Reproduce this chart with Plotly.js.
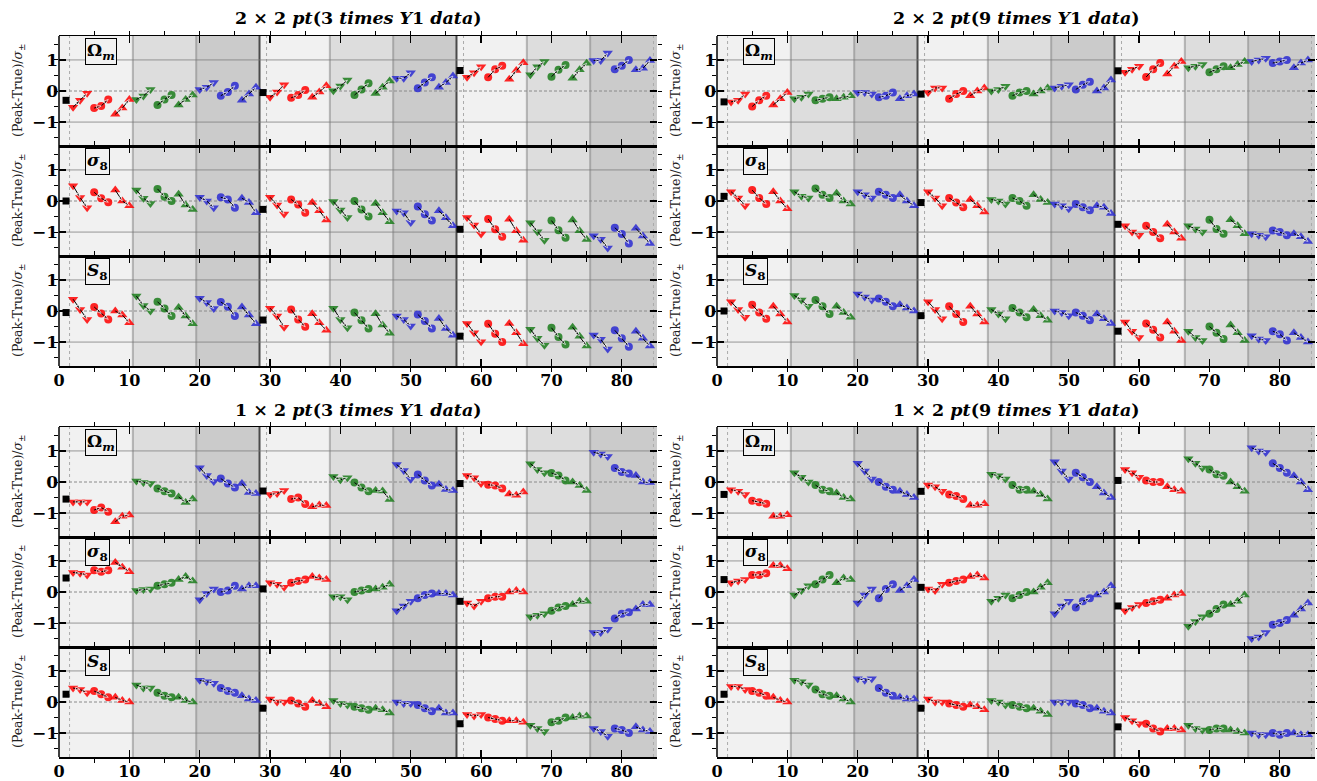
<!DOCTYPE html>
<html>
<head>
<meta charset="utf-8">
<script src="https://cdn.plot.ly/plotly-3.0.1.min.js"></script>
<style>
html,body{margin:0;padding:0;background:#fff;}
#chart{width:1317px;height:781px;}
</style>
</head>
<body>
<div id="chart"></div>
<script>
// Panel titles (scenario: partitioning and survey depth)
const panelTitles = [
  '<b>2 × 2 <i>pt</i>(3 <i>times Y</i>1 <i>data</i>)</b>',
  '<b>2 × 2 <i>pt</i>(9 <i>times Y</i>1 <i>data</i>)</b>',
  '<b>1 × 2 <i>pt</i>(3 <i>times Y</i>1 <i>data</i>)</b>',
  '<b>1 × 2 <i>pt</i>(9 <i>times Y</i>1 <i>data</i>)</b>'
];
const paramLabels = ['<b>Ω<sub><i>m</i></sub></b>', '<b><i>σ</i><sub>8</sub></b>', '<b><i>S</i><sub>8</sub></b>'];
const yTitle = '(Peak-True)/<i>σ</i><sub>±</sub>';
const tickLabelsX = [0, 10, 20, 30, 40, 50, 60, 70, 80];

// (Peak-True)/sigma for configurations 1..84 : 2x2pt, 3 x Y1
const om_2x2_3 = [-0.30, -0.52,-0.30,-0.07, -0.55,-0.48,-0.27, -0.75,-0.55,-0.27, -0.27,-0.16,0.05, -0.45,-0.27,-0.13, -0.45,-0.27,-0.13, 0.05,0.12,0.27, -0.15,-0.03,0.17, -0.30,-0.10,0.12,
  -0.05, -0.20,-0.03,0.20, -0.22,-0.13,0.03, -0.20,-0.03,0.17, 0.01,0.16,0.35, -0.13,0.05,0.25, -0.08,0.12,0.32, 0.41,0.41,0.59, 0.09,0.27,0.44, 0.12,0.27,0.48,
  0.66, 0.44,0.59,0.78, 0.44,0.70,0.81, 0.38,0.66,0.91, 0.52,0.78,0.95, 0.46,0.68,0.84, 0.41,0.68,0.89, 0.98,0.98,1.22, 0.70,0.81,1.00, 0.68,0.73,0.98];
const s8_2x2_3 = [0.00, 0.49,0.11,-0.22, 0.28,0.09,-0.04, 0.35,0.00,-0.15, 0.35,0.09,-0.08, 0.39,0.14,0.00, 0.22,-0.13,-0.27, 0.12,0.00,-0.22, 0.12,0.05,-0.22, 0.09,-0.05,-0.38,
  -0.27, 0.12,-0.13,-0.42, 0.05,-0.11,-0.38, -0.05,-0.31,-0.61, -0.02,-0.29,-0.53, 0.00,-0.27,-0.50, -0.08,-0.38,-0.67, -0.32,-0.38,-0.69, -0.18,-0.43,-0.63, -0.31,-0.54,-0.80,
  -0.91, -0.53,-0.77,-1.06, -0.58,-0.91,-1.15, -0.59,-0.96,-1.26, -0.70,-0.99,-1.26, -0.63,-0.94,-1.18, -0.61,-0.96,-1.24, -1.12,-1.23,-1.51, -0.86,-1.06,-1.37, -0.88,-1.13,-1.37];
const S8_2x2_3 = [-0.05, 0.38,0.05,-0.27, 0.13,-0.08,-0.27, 0.00,-0.13,-0.38, 0.48,0.18,0.00, 0.30,0.08,-0.16, 0.11,-0.16,-0.41, 0.41,0.27,0.08, 0.29,0.14,-0.16, 0.13,-0.13,-0.41,
  -0.29, 0.09,-0.16,-0.52, 0.05,-0.27,-0.51, -0.09,-0.38,-0.62, 0.09,-0.27,-0.54, -0.05,-0.30,-0.56, -0.09,-0.45,-0.72, -0.16,-0.27,-0.48, -0.11,-0.32,-0.56, -0.24,-0.56,-0.78,
  -0.81, -0.40,-0.70,-0.99, -0.41,-0.73,-1.00, -0.40,-0.70,-1.05, -0.59,-0.88,-1.10, -0.54,-0.84,-1.08, -0.52,-0.81,-1.13, -0.77,-0.91,-1.22, -0.62,-0.88,-1.15, -0.65,-0.88,-1.13];

// 2x2pt, 9 x Y1
const om_2x2_9 = [-0.35, -0.35,-0.30,-0.10, -0.50,-0.30,-0.15, -0.45,-0.25,-0.05, -0.25,-0.20,-0.10, -0.30,-0.25,-0.20, -0.25,-0.20,-0.15, -0.05,-0.05,-0.10, -0.20,-0.15,-0.05, -0.25,-0.15,-0.10,
  -0.10, -0.05,0.10,0.10, -0.25,-0.10,0.00, -0.15,0.00,0.10, 0.00,0.05,0.15, -0.15,-0.05,0.00, -0.10,0.00,0.10, 0.10,0.15,0.20, 0.05,0.20,0.30, 0.00,0.10,0.35,
  0.65, 0.60,0.70,0.80, 0.45,0.70,0.90, 0.55,0.80,0.95, 0.75,0.80,0.85, 0.60,0.70,0.80, 0.75,0.85,0.95, 0.95,1.00,1.05, 0.90,0.95,1.00, 0.75,0.90,1.00];
const s8_2x2_9 = [0.15, 0.30,0.10,-0.15, 0.35,0.10,-0.10, 0.30,0.00,-0.25, 0.30,0.15,0.10, 0.40,0.20,0.10, 0.25,0.00,-0.10, 0.30,0.20,0.10, 0.30,0.20,0.10, 0.20,0.00,-0.15,
  -0.05, 0.30,0.10,-0.15, 0.10,-0.05,-0.20, 0.05,-0.15,-0.35, 0.05,0.00,-0.10, 0.10,0.00,-0.15, 0.20,0.05,-0.05, -0.10,-0.15,-0.25, -0.10,-0.20,-0.30, -0.15,-0.20,-0.40,
  -0.75, -0.80,-1.00,-1.10, -0.80,-1.00,-1.20, -0.75,-1.00,-1.20, -0.80,-0.90,-1.00, -0.60,-0.90,-1.05, -0.60,-0.80,-1.05, -1.05,-1.10,-1.15, -0.95,-1.00,-1.10, -1.05,-1.15,-1.30];
const S8_2x2_9 = [0.00, 0.30,0.05,-0.20, 0.20,-0.05,-0.25, 0.15,-0.10,-0.35, 0.50,0.35,0.15, 0.35,0.15,-0.10, 0.15,-0.05,-0.20, 0.55,0.45,0.35, 0.40,0.30,0.15, 0.20,0.10,0.00,
  -0.15, 0.30,0.05,-0.25, 0.15,-0.10,-0.35, 0.15,-0.10,-0.35, 0.05,-0.10,-0.25, 0.10,-0.05,-0.20, 0.05,-0.15,-0.30, 0.00,-0.05,-0.15, -0.05,-0.15,-0.30, -0.10,-0.25,-0.40,
  -0.65, -0.35,-0.65,-0.85, -0.40,-0.60,-0.85, -0.35,-0.65,-0.95, -0.65,-0.85,-0.95, -0.50,-0.70,-0.90, -0.45,-0.70,-0.95, -0.80,-0.90,-0.95, -0.65,-0.75,-0.95, -0.70,-0.85,-1.00];

// 1x2pt, 3 x Y1
const om_1x2_3 = [-0.55, -0.64,-0.64,-0.64, -0.90,-0.82,-0.96, -1.28,-1.10,-1.06, 0.03,-0.02,-0.05, -0.21,-0.30,-0.37, -0.48,-0.66,-0.55, 0.46,0.21,0.02, 0.11,-0.05,-0.18, -0.05,-0.34,-0.37,
  -0.29, -0.40,-0.37,-0.27, -0.55,-0.50,-0.71, -0.80,-0.74,-0.76, 0.18,0.07,0.14, -0.02,-0.18,-0.30, -0.27,-0.29,-0.56, 0.56,0.37,0.09, 0.24,0.05,-0.11, -0.07,-0.24,-0.27,
  -0.05, 0.21,0.14,-0.05, -0.09,-0.11,-0.21, -0.39,-0.43,-0.32, 0.59,0.40,0.30, 0.29,0.21,0.05, 0.00,-0.11,-0.27, 0.96,0.90,0.82, 0.45,0.32,0.27, 0.21,0.00,-0.02];
const s8_1x2_3 = [0.45, 0.63,0.60,0.55, 0.70,0.65,0.70, 0.95,0.80,0.65, 0.05,0.08,0.10, 0.20,0.25,0.30, 0.40,0.50,0.35, -0.25,-0.05,0.10, 0.00,0.05,0.20, 0.10,0.20,0.20,
  0.10, 0.30,0.25,0.15, 0.30,0.35,0.40, 0.50,0.45,0.40, -0.15,-0.15,-0.25, 0.00,0.05,0.10, 0.10,0.15,0.25, -0.60,-0.45,-0.30, -0.20,-0.10,-0.05, -0.05,-0.05,-0.10,
  -0.30, -0.35,-0.45,-0.30, -0.20,-0.15,-0.15, 0.00,0.05,0.00, -0.80,-0.75,-0.70, -0.60,-0.50,-0.45, -0.40,-0.30,-0.30, -1.30,-1.30,-1.20, -0.85,-0.70,-0.65, -0.55,-0.40,-0.40];
const S8_1x2_3 = [0.25, 0.45,0.40,0.30, 0.35,0.25,0.15, 0.15,0.05,0.00, 0.55,0.45,0.45, 0.30,0.20,0.15, 0.15,0.05,0.00, 0.70,0.65,0.60, 0.45,0.35,0.30, 0.20,0.10,0.05,
  -0.20, 0.10,0.00,0.00, 0.05,-0.05,-0.15, 0.05,-0.05,-0.15, 0.05,-0.05,-0.10, -0.15,-0.20,-0.25, -0.20,-0.25,-0.35, 0.00,-0.05,-0.05, -0.10,-0.20,-0.30, -0.20,-0.35,-0.35,
  -0.70, -0.40,-0.45,-0.40, -0.50,-0.55,-0.60, -0.60,-0.60,-0.65, -0.75,-0.85,-0.95, -0.65,-0.60,-0.50, -0.50,-0.45,-0.45, -0.85,-0.95,-1.10, -0.85,-0.90,-1.00, -0.80,-0.90,-0.95];

// 1x2pt, 9 x Y1
const om_1x2_9 = [-0.40, -0.25,-0.30,-0.40, -0.60,-0.65,-0.70, -1.10,-1.10,-1.05, 0.30,0.15,0.00, -0.10,-0.25,-0.30, -0.35,-0.50,-0.55, 0.60,0.35,0.10, 0.00,-0.15,-0.25, -0.30,-0.40,-0.50,
  -0.30, -0.10,-0.15,-0.30, -0.40,-0.45,-0.55, -0.75,-0.75,-0.70, 0.25,0.20,0.10, -0.10,-0.25,-0.25, -0.30,-0.40,-0.55, 0.65,0.35,0.10, 0.30,0.15,0.00, -0.15,-0.35,-0.50,
  0.05, 0.40,0.30,0.15, 0.05,0.00,0.00, -0.15,-0.25,-0.30, 0.75,0.60,0.45, 0.40,0.25,0.20, 0.00,-0.15,-0.30, 1.10,1.00,0.95, 0.60,0.45,0.30, 0.20,0.00,-0.25];
const s8_1x2_9 = [0.40, 0.30,0.35,0.40, 0.55,0.55,0.60, 0.85,0.85,0.75, -0.10,0.05,0.20, 0.25,0.40,0.55, 0.30,0.45,0.40, -0.35,-0.10,0.10, -0.20,0.10,0.25, 0.05,0.20,0.40,
  0.15, 0.10,0.05,0.25, 0.30,0.35,0.40, 0.50,0.55,0.45, -0.30,-0.20,-0.10, -0.20,-0.10,0.00, 0.00,0.15,0.30, -0.70,-0.45,-0.30, -0.50,-0.30,-0.20, -0.10,0.00,0.20,
  -0.45, -0.60,-0.50,-0.40, -0.35,-0.30,-0.25, -0.20,-0.10,-0.05, -1.10,-0.95,-0.80, -0.70,-0.55,-0.40, -0.40,-0.30,-0.10, -1.50,-1.45,-1.30, -1.05,-1.00,-0.90, -0.75,-0.55,-0.35];
const S8_1x2_9 = [0.25, 0.50,0.50,0.40, 0.35,0.30,0.20, 0.15,0.05,0.00, 0.70,0.65,0.55, 0.40,0.25,0.20, 0.20,0.10,0.00, 0.75,0.70,0.75, 0.45,0.30,0.20, 0.15,0.10,0.10,
  -0.20, 0.10,0.00,0.00, -0.05,-0.10,-0.15, -0.10,-0.15,-0.25, 0.05,0.00,-0.10, -0.10,-0.15,-0.20, -0.20,-0.30,-0.40, 0.00,0.00,0.00, -0.05,-0.10,-0.20, -0.20,-0.30,-0.35,
  -0.80, -0.50,-0.60,-0.70, -0.70,-0.85,-0.95, -0.85,-0.85,-0.90, -0.75,-0.85,-0.90, -0.90,-0.85,-0.85, -0.90,-0.95,-1.00, -1.00,-1.05,-1.05, -1.00,-1.05,-1.00, -1.00,-1.05,-1.05];

const panelData = [
  [om_2x2_3, s8_2x2_3, S8_2x2_3],
  [om_2x2_9, s8_2x2_9, S8_2x2_9],
  [om_1x2_3, s8_1x2_3, S8_1x2_3],
  [om_1x2_9, s8_1x2_9, S8_1x2_9]
];

// ---- styling / geometry ----
const W = 1317, H = 781;
const FONT = '"DejaVu Serif", "Liberation Serif", serif';
const colors = ['#ff0000', '#1b7d1b', '#2b2bd2'];
const symbols = ['triangle-down', 'circle', 'triangle-up'];
const xDom = [[59 / W, 657 / W], [717 / W, 1315 / W]];
const rowPix = [[[36, 146], [146, 256], [256, 366]], [[427, 537], [537, 647], [647, 757]]];
const bandFill = ['#f1f1f1', '#dddddd', '#cbcbcb'];

const traces = [];
const shapes = [];
const annotations = [];
const layout = {
  width: W, height: H,
  margin: {l: 0, r: 0, t: 0, b: 0},
  paper_bgcolor: '#ffffff', plot_bgcolor: '#ffffff',
  showlegend: false,
  font: {family: FONT, color: '#000'}
};

for (let p = 0; p < 4; p++) {
  const col = p % 2, blk = Math.floor(p / 2);
  const xd = xDom[col];
  // panel title
  annotations.push({
    xref: 'paper', yref: 'paper',
    x: (xd[0] + xd[1]) / 2, y: (H - (blk === 0 ? 18 : 410)) / H,
    xanchor: 'center', yanchor: 'middle', showarrow: false,
    text: panelTitles[p], font: {family: FONT, size: 17.5, color: '#000'}
  });
  for (let r = 0; r < 3; r++) {
    const k = p * 3 + r + 1;
    const xa = 'x' + k, ya = 'y' + k;
    const rp = rowPix[blk][r];
    const yd = [(H - rp[1]) / H, (H - rp[0]) / H];
    const vals = panelData[p][r];

    layout['xaxis' + k] = {
      domain: xd, anchor: ya, range: [0, 85],
      ticks: 'inside', ticklen: 7, tickwidth: 1.3, tickcolor: '#000',
      minor: {dtick: 5, tick0: 0, ticklen: 4, tickwidth: 1, tickcolor: '#000', showgrid: false},
      showline: true, linecolor: '#000', linewidth: 1.5, mirror: 'ticks',
      showgrid: false, zeroline: false, showticklabels: r === 2,
      tickmode: 'array', tickvals: tickLabelsX, ticktext: tickLabelsX.map(String),
      ticklabelstandoff: -1,
      tickfont: {family: FONT, size: 16, weight: 'bold', color: '#000'}
    };
    layout['yaxis' + k] = {
      domain: yd, anchor: xa, range: [-1.77, 1.77],
      tick0: 0, dtick: 1, ticks: 'inside', ticklen: 7, tickwidth: 1.3, tickcolor: '#000',
      minor: {dtick: 0.5, tick0: 0, ticklen: 4, tickwidth: 1, tickcolor: '#000', showgrid: false},
      showline: false, mirror: 'ticks',
      showgrid: false, zeroline: false,
      tickfont: {family: FONT, size: 17, weight: 'bold', color: '#000'}
    };

    // shaded sections
    for (let s = 0; s < 3; s++) {
      const b = 28 * s;
      const edges = [s === 0 ? 0 : b + 0.5, b + 10.5, b + 19.5, s === 2 ? 85 : b + 28.5];
      for (let c = 0; c < 3; c++) {
        shapes.push({type: 'rect', xref: xa, yref: ya + ' domain', x0: edges[c], x1: edges[c + 1], y0: 0, y1: 1,
          fillcolor: bandFill[c], line: {width: 0}, layer: 'below'});
      }
      [b + 10.5, b + 19.5].forEach(xv => shapes.push({type: 'line', xref: xa, yref: ya + ' domain', x0: xv, x1: xv, y0: 0, y1: 1,
        line: {color: 'rgba(110,110,110,0.45)', width: 2}, layer: 'below'}));
      shapes.push({type: 'line', xref: xa, yref: ya + ' domain', x0: b + 1.5, x1: b + 1.5, y0: 0, y1: 1,
        line: {color: '#aaaaaa', width: 1, dash: 'dot'}, layer: 'below'});
      if (s > 0) shapes.push({type: 'line', xref: xa, yref: ya + ' domain', x0: b + 0.5, x1: b + 0.5, y0: 0, y1: 1,
        line: {color: '#4a4a4a', width: 2}, layer: 'below'});
    }
    shapes.push({type: 'line', xref: xa, yref: ya + ' domain', x0: 84.5, x1: 84.5, y0: 0, y1: 1,
      line: {color: '#aaaaaa', width: 1, dash: 'dot'}, layer: 'below'});
    // reference levels
    [-1, 1].forEach(yv => shapes.push({type: 'line', xref: xa + ' domain', yref: ya, x0: 0, x1: 1, y0: yv, y1: yv,
      line: {color: 'rgba(120,120,120,0.75)', width: 1}, layer: 'below'}));
    shapes.push({type: 'line', xref: xa + ' domain', yref: ya, x0: 0, x1: 1, y0: 0, y1: 0,
      line: {color: '#8a8a8a', width: 1, dash: '3px,2px'}, layer: 'below'});
    // left spine
    shapes.push({type: 'line', xref: xa + ' domain', yref: ya + ' domain', x0: 0, x1: 0, y0: 0, y1: 1,
      line: {color: '#000', width: 1.5}, layer: 'above'});

    // parameter label box
    annotations.push({
      xref: xa, yref: ya + ' domain', x: 3.7, y: 0.985, xanchor: 'left', yanchor: 'top',
      showarrow: false, text: paramLabels[r], bordercolor: '#000', borderwidth: 1, borderpad: 1,
      bgcolor: '#f1f1f1', font: {family: FONT, size: 17, color: '#000'}
    });
    // y title
    annotations.push({
      xref: 'paper', yref: ya + ' domain', x: (col === 0 ? 18 : 676) / W, y: 0.5,
      xanchor: 'center', yanchor: 'middle', textangle: -90, showarrow: false,
      text: yTitle, font: {family: FONT, size: 12.5, color: '#222'}
    });

    // coloured markers: colour = sub-group, symbol = triplet
    for (let c = 0; c < 3; c++) {
      for (let m = 0; m < 3; m++) {
        const xs = [], ys = [];
        for (let s = 0; s < 3; s++) {
          for (let j = 0; j < 3; j++) {
            const pos = 28 * s + 2 + c * 9 + m * 3 + j;
            xs.push(pos); ys.push(vals[pos - 1]);
          }
        }
        traces.push({type: 'scatter', mode: 'markers', xaxis: xa, yaxis: ya, x: xs, y: ys,
          marker: {symbol: symbols[m], size: m === 1 ? 8 : 9, color: colors[c], opacity: 0.85, line: {width: 0}},
          hoverinfo: 'x+y'});
      }
    }
    // black connecting lines with direction arrows
    const lx = [], ly = [], ls = [];
    for (let s = 0; s < 3; s++) {
      for (let t = 0; t < 9; t++) {
        for (let j = 0; j < 3; j++) {
          const pos = 28 * s + 2 + t * 3 + j;
          lx.push(pos); ly.push(vals[pos - 1]); ls.push(j === 0 ? 0 : 5);
        }
        lx.push(null); ly.push(null); ls.push(0);
      }
    }
    traces.push({type: 'scatter', mode: 'lines+markers', xaxis: xa, yaxis: ya, x: lx, y: ly,
      line: {color: '#000', width: 1}, connectgaps: false,
      marker: {symbol: 'arrow', size: ls, color: '#000', angleref: 'previous'}, hoverinfo: 'skip'});
    // reference points (black squares)
    const bx = [1, 29, 57];
    traces.push({type: 'scatter', mode: 'markers', xaxis: xa, yaxis: ya, x: bx, y: bx.map(v => vals[v - 1]),
      marker: {symbol: 'square', size: 7, color: '#000'}, hoverinfo: 'x+y'});
  }
}
layout.shapes = shapes;
layout.annotations = annotations;
Plotly.newPlot('chart', traces, layout, {displayModeBar: false, staticPlot: true});
</script>
</body>
</html>
